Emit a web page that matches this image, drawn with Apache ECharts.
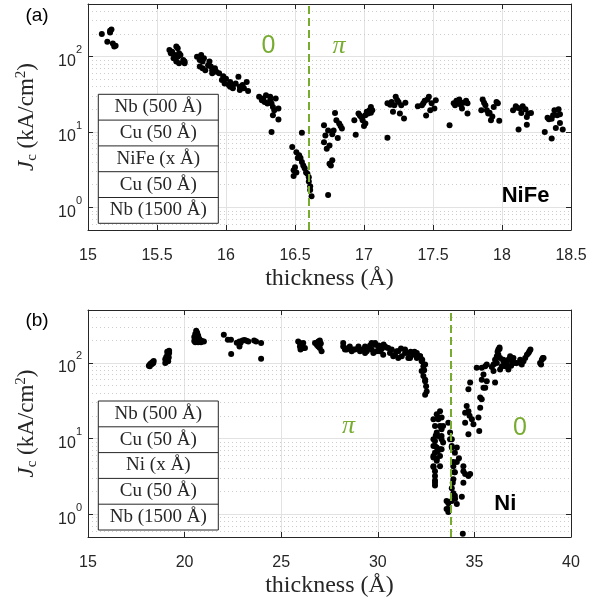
<!DOCTYPE html>
<html>
<head>
<meta charset="utf-8">
<script src="https://cdn.jsdelivr.net/npm/echarts@6/dist/echarts.min.js"></script>
<style>
  html, body { margin: 0; padding: 0; background: #fff; }
  #chart { width: 606px; height: 607px; }
</style>
</head>
<body>
<div id="chart"></div>
<script>
// ---- Measured critical current density vs. ferromagnet thickness ----
// (a) Nb/Cu/NiFe/Cu/Nb junctions  [thickness Å, Jc kA/cm²]
const NIFE_POINTS = [
  [15.10,200],[15.16,220],[15.17,230],[15.16,210],[15.14,158],[15.18,150],[15.19,136],[15.20,140],
  [15.59,123],[15.60,111],[15.61,116],[15.64,136],[15.65,129],[15.63,105],[15.62,95],[15.65,100],
  [15.66,111],[15.67,105],[15.69,90],[15.70,82],[15.64,86],[15.66,82],[15.70,86],
  [15.79,100],[15.81,90],[15.82,105],[15.83,86],[15.84,95],[15.81,74],[15.83,70],[15.85,66],
  [15.87,77],[15.88,86],[15.89,74],[15.90,66],[15.92,70],[15.90,60],[15.93,63],
  [15.95,60],[15.98,55],[15.97,49],[16.00,51],[15.99,44],[16.03,46],[16.05,42],[16.07,44],
  [16.09,54],[16.10,40],[16.12,42],[16.15,46],[16.16,35],[16.05,38],[16.03,40],[16.02,42],
  [16.13,38],[16.10,36],
  [16.24,29.3],[16.26,26.4],[16.27,27.9],[16.29,30.8],[16.28,25.1],[16.30,23.9],[16.32,26.4],
  [16.33,23.9],[16.34,21.5],[16.36,27.9],[16.35,19.4],[16.38,20.5],[16.34,16.7],[16.38,14.6],
  [16.33,10.0],[16.32,29.3],
  [16.48,6.3],[16.51,5.4],[16.53,4.9],[16.52,4.5],[16.55,4.0],[16.50,3.4],[16.49,3.1],[16.49,2.6],
  [16.51,2.9],[16.57,3.3],[16.59,2.8],[16.60,2.5],[16.61,1.9],[16.61,1.7],[16.62,1.4],[16.55,9.8],
  [16.58,2.9],[16.54,4.5],[16.56,3.6],[16.60,2.2],
  [16.71,12.3],[16.74,10.5],[16.71,7.3],[16.75,6.6],[16.73,6.0],[16.78,10.5],[16.79,17.9],
  [16.80,14.3],[16.82,13.0],[16.84,11.1],[16.81,8.3],[16.77,4.2],[16.75,3.8],[16.76,3.6],
  [16.74,1.46],[16.72,9.0],[16.77,9.3],[16.83,12.0],
  [16.93,14.3],[16.94,9.2],[16.96,17.6],[16.98,15.8],[16.99,14.3],[17.01,13.0],[17.02,18.5],
  [17.04,19.5],[17.05,21.5],[17.06,19.5],[17.03,17.6],[17.01,16.7],[16.97,16.5],[17.00,12.0],
  [17.05,18.0],
  [17.17,8.4],[17.17,24],[17.20,25],[17.23,29.3],[17.25,25],[17.27,22.7],[17.30,24.4],[17.21,18.5],
  [17.26,17.6],[17.29,15.1],[17.22,22.7],[17.24,26.5],[17.19,23],
  [17.39,22],[17.42,22.7],[17.44,25.9],[17.47,29.3],[17.46,27],[17.49,24],[17.52,26.4],[17.51,20.5],
  [17.45,16.6],[17.48,19.5],[17.43,24],
  [17.62,12.3],[17.65,24],[17.67,25.9],[17.69,27],[17.72,24.4],[17.74,25.9],[17.75,24],[17.71,20.5],
  [17.75,17.6],[17.66,22.7],[17.70,23],[17.68,24.5],
  [17.86,27],[17.88,22.7],[17.85,19.5],[17.89,19.5],[17.90,17.6],[17.94,21.5],[17.96,25],[17.97,24],
  [17.92,14.3],[17.98,14.1],[17.91,18],[17.87,24.5],[17.93,16],
  [18.08,19.5],[18.10,22],[18.13,20.5],[18.15,22],[18.17,20],[18.14,17.9],[18.19,17.6],[18.21,17.9],
  [18.18,15.8],[18.18,12.5],[18.12,10.8],[18.11,21],
  [18.31,10],[18.33,15.5],[18.34,14.8],[18.36,8.2],[18.37,16.7],[18.38,19.5],[18.41,20],[18.40,16.7],
  [18.42,17.2],[18.42,13.2],[18.39,11.3],[18.44,10.8],[18.36,15]
];

// (b) Nb/Cu/Ni/Cu/Nb junctions  [thickness Å, Jc kA/cm²]
const NI_POINTS = [
  [18.15,92],[18.2,95],[18.25,98],[18.3,100],[18.35,103],[18.4,106],[18.2,90],[18.3,96],[18.38,100],
  [19.0,100],[19.05,108],[19.1,115],[19.15,125],[19.2,135],[19.2,145],[19.1,140],[19.05,120],
  [19.15,105],[19.0,112],[19.12,130],[19.18,118],
  [20.6,265],[20.65,250],[20.55,240],[20.7,230],[20.5,220],[20.6,215],[20.75,210],[20.5,195],
  [20.65,200],[20.8,200],[20.9,195],[21.0,192],[20.55,188],[20.7,188],[20.85,188],[20.6,205],[20.7,195],
  [22.03,236],[22.24,202],[22.4,202],[22.41,131],[22.84,192],[22.84,165],[23.0,198],[23.2,196],
  [23.3,192],[23.6,198],[23.7,192],[23.96,183],[23.96,113],[22.7,185],[22.9,185],[23.1,200],
  [25.88,192],[25.97,165],[26.14,183],[26.23,157],[26.05,170],[25.97,183],[26.14,157],[26.83,183],
  [27.0,198],[26.92,165],[27.09,142],[26.75,183],[26.92,192],[27.0,157],[26.85,172],[27.05,180],[26.0,150],
  [28.21,183],[28.3,150],[28.47,157],[28.65,142],[28.82,150],[29.0,165],[29.08,142],[29.34,135],
  [29.5,157],[29.68,150],[29.86,183],[29.94,142],[30.05,170],[30.2,153],[30.28,128],[30.45,160],
  [30.63,135],[30.8,122],[30.98,142],[31.06,116],[31.41,135],[31.58,116],[31.7,140],
  [28.21,165],[28.39,150],[28.55,165],[28.73,150],[28.99,157],[29.2,150],[29.34,165],[29.43,142],
  [29.68,183],[29.86,174],[29.77,135],[30.03,165],[30.11,142],[30.37,165],[30.54,157],[30.72,150],
  [30.89,128],[31.06,142],[31.24,122],[31.41,150],[31.58,135],[31.67,116],[31.84,128],[32.02,116],
  [32.19,122],[31.9,140],[31.2,155],[30.3,175],[29.6,170],
  [32.02,135],[32.19,122],[32.27,105],[32.36,90],[32.27,78],[32.36,67],[32.45,57],[32.5,49],
  [32.53,42],[32.45,38],[32.45,95],[32.4,80],[32.45,60],[32.3,110],
  [33.22,23],[33.13,19],[33.22,14.6],[33.05,12],[33.13,10.8],[32.96,9.3],[32.88,8.0],[33.05,7.6],
  [32.96,6.5],[32.88,5.6],[33.05,5.1],[32.88,4.3],[32.96,3.7],[32.96,3.2],[32.96,2.6],[32.96,2.4],
  [33.3,13.3],[33.3,9.8],[33.22,5.9],[33.22,4.3],[33.3,7.2],[32.88,18],[32.96,14.6],[33.05,21],
  [33.13,18],[32.88,9.8],[32.96,8],[32.88,5.9],[33.05,5.4],[32.88,4.2],[32.96,2.8],[33.3,19],
  [33.3,10.8],[33.38,14.6],[33.22,7.2],[33.38,8.9],[33.1,6.8],[33.0,11],
  [33.65,16.2],[33.74,12],[33.74,9.8],[33.83,8],[34.09,7.6],[33.99,6.5],[34.09,4.9],[33.91,4.3],
  [33.99,3.6],[33.91,2.9],[33.83,2.2],[33.91,1.9],[33.99,1.75],[33.83,1.5],[33.65,1.4],[33.65,1.17],
  [33.65,1.07],[34.4,0.55],[34.43,4.3],[34.52,3.4],[34.43,2.6],[34.69,3.2],[34.35,1.7],[34.09,1.36],
  [33.83,9.8],[33.83,7.6],[33.91,4.9],[33.96,3.6],[33.88,2.6],[34.0,1.6],[33.56,1.5],[33.56,1.17],
  [34.43,3.7],[34.78,3.4],[34.2,5.5],
  [34.69,45],[34.78,55],[34.6,27],[34.52,22],[34.69,23],[34.75,20],[34.87,18],[34.52,16.2],
  [34.69,11.4],[34.95,15.5],[35.38,60],[35.38,33],[35.3,25.6],[35.21,19],[35.25,12.6],[35.12,86],
  [35.38,86],[35.47,70],[35.56,47],[35.64,57],[35.3,35],[35.47,47],[35.64,95],[35.99,78],[36.07,55],
  [36.3,153],[36.24,128],[36.33,116],[36.07,110],[36.16,100],[36.42,90],[36.5,105],[36.33,82],
  [35.99,95],[36.76,110],[36.85,122],[36.94,105],[36.76,82],[37.02,116],[37.1,100],[37.45,95],
  [37.54,105],[37.63,116],[37.72,128],[37.85,142],[37.9,150],[38.4,100],[38.49,110],[38.54,116],
  [38.45,95],[36.24,150],[36.16,122],[36.67,95],[36.6,90],[37.2,100],[37.37,110],[37.8,135],
  [38.58,116],[35.9,88],[35.56,90],[36.5,110],[36.2,140],[36.3,160],[36.9,92]
];

// 0-π transition thicknesses (dashed markers)
const NIFE_TRANSITION = 16.6;
const NI_TRANSITION = 33.8;

// axis ranges and tick steps
const NIFE_X_RANGE = [15, 18.5, 0.5];
const NI_X_RANGE = [15, 40, 5];
const JC_RANGE = [0.5, 500];
// minor log grid lines
const JC_MINOR = [0.6, 0.7, 0.8, 0.9, 2, 3, 4, 5, 6, 7, 8, 9, 20, 30, 40, 50, 60, 70, 80, 90, 200, 300, 400];

// junction layer stacks (inset)
const NIFE_STACK = ['Nb (500 Å)', 'Cu (50 Å)', 'NiFe (x Å)', 'Cu (50 Å)', 'Nb (1500 Å)'];
const NI_STACK = ['Nb (500 Å)', 'Cu (50 Å)', 'Ni (x Å)', 'Cu (50 Å)', 'Nb (1500 Å)'];

const AXIS_COLOR = '#262626';
const GRID_COLOR = '#e2e2e2';
const MINOR_COLOR = '#cdcdcd';
const GREEN = '#77ac30';
const SANS = '"Liberation Sans", Arial, sans-serif';
const SERIF = '"Liberation Serif", "Times New Roman", serif';

const grids = [
  { left: 88, top: 4, width: 483, height: 226 },
  { left: 88, top: 310, width: 483, height: 227 }
];

function xAxisPair(gi, range) {
  const [min, max, interval] = range;
  return [
    {
      type: 'value', gridIndex: gi, min, max, interval, position: 'bottom',
      name: 'thickness (Å)', nameLocation: 'middle', nameGap: 37,
      nameTextStyle: { fontFamily: SERIF, fontSize: 24, color: AXIS_COLOR },
      axisLine: { show: true, onZero: false, lineStyle: { color: AXIS_COLOR, width: 1 } },
      axisTick: { show: true, inside: true, length: 5, lineStyle: { color: AXIS_COLOR } },
      axisLabel: { fontFamily: SANS, fontSize: 16, color: AXIS_COLOR, margin: 18 },
      splitLine: { show: true, lineStyle: { color: GRID_COLOR, width: 1 } }
    },
    {
      type: 'value', gridIndex: gi, min, max, interval, position: 'top',
      axisLine: { show: true, onZero: false, lineStyle: { color: AXIS_COLOR, width: 1 } },
      axisTick: { show: true, inside: true, length: 5, lineStyle: { color: AXIS_COLOR } },
      axisLabel: { show: false }, splitLine: { show: false }
    }
  ];
}

function powerLabel(v) {
  const e = Math.log10(v);
  if (Math.abs(e - Math.round(e)) < 1e-6) return '{b|10}{sup|' + Math.round(e) + '}';
  return '';
}

function yAxisPair(gi) {
  return [
    {
      type: 'log', logBase: 10, gridIndex: gi, min: JC_RANGE[0], max: JC_RANGE[1], splitNumber: 3,
      position: 'left',
      name: '{i|J}{sub|c}{n| (kA/cm}{sup|2}{n|)}', nameLocation: 'middle', nameGap: 46, nameRotate: 90,
      nameTextStyle: {
        rich: {
          i: { fontFamily: SERIF, fontStyle: 'italic', fontSize: 23, color: AXIS_COLOR, lineHeight: 30, verticalAlign: 'middle' },
          n: { fontFamily: SERIF, fontSize: 23, color: AXIS_COLOR, lineHeight: 30, verticalAlign: 'middle' },
          sub: { fontFamily: SERIF, fontSize: 15, color: AXIS_COLOR, lineHeight: 30, verticalAlign: 'bottom', padding: [0, 0, 2, 0] },
          sup: { fontFamily: SERIF, fontSize: 15, color: AXIS_COLOR, lineHeight: 30, verticalAlign: 'top', padding: [2, 0, 0, 0] }
        }
      },
      axisLine: { show: true, onZero: false, lineStyle: { color: AXIS_COLOR, width: 1 } },
      axisTick: { show: true, inside: true, length: 5, lineStyle: { color: AXIS_COLOR } },
      axisLabel: {
        margin: 6, formatter: powerLabel, showMinLabel: false, showMaxLabel: false,
        rich: {
          b: { fontFamily: SANS, fontSize: 16, color: AXIS_COLOR, lineHeight: 26, verticalAlign: 'bottom' },
          sup: { fontFamily: SANS, fontSize: 11, color: AXIS_COLOR, lineHeight: 26, verticalAlign: 'top', padding: [1, 0, 0, 0] }
        }
      },
      splitLine: { show: true, lineStyle: { color: GRID_COLOR, width: 1 } }
    },
    {
      type: 'log', logBase: 10, gridIndex: gi, min: JC_RANGE[0], max: JC_RANGE[1], splitNumber: 3,
      position: 'right',
      axisLine: { show: true, onZero: false, lineStyle: { color: AXIS_COLOR, width: 1 } },
      axisTick: { show: true, inside: true, length: 5, lineStyle: { color: AXIS_COLOR } },
      axisLabel: { show: false }, splitLine: { show: false }
    }
  ];
}

// dotted minor grid, kept beneath the data points
function minorGridSeries(xi, yi) {
  return {
    type: 'scatter', xAxisIndex: xi, yAxisIndex: yi, data: [], z: 0, silent: true,
    markLine: {
      z: 0, silent: true, symbol: 'none', label: { show: false }, animation: false,
      lineStyle: { color: MINOR_COLOR, type: [1, 3], width: 1 },
      data: JC_MINOR.map(v => ({ yAxis: v }))
    }
  };
}

// dashed 0-π boundary, drawn over the data points
function transitionSeries(xi, yi, x) {
  return {
    type: 'scatter', xAxisIndex: xi, yAxisIndex: yi, data: [], z: 6, silent: true,
    markLine: {
      z: 6, silent: true, symbol: 'none', label: { show: false }, animation: false,
      lineStyle: { color: GREEN, type: [8, 4], width: 2 },
      data: [{ xAxis: x }]
    }
  };
}

function dataSeries(xi, yi, pts) {
  return {
    type: 'scatter', xAxisIndex: xi, yAxisIndex: yi, data: pts, z: 3,
    symbol: 'circle', symbolSize: 6,
    itemStyle: { color: '#000', opacity: 1, borderWidth: 0 },
    emphasis: { disabled: true }, animation: false
  };
}

function stackTable(left, top, rows) {
  const w = 120, rowH = 25.8;
  const children = [{
    type: 'rect', z: 100, shape: { x: 0, y: 0, width: w, height: rowH * rows.length },
    style: { fill: '#fff', stroke: AXIS_COLOR, lineWidth: 1 }
  }];
  rows.forEach((t, i) => {
    if (i > 0) {
      children.push({ type: 'line', z: 101, shape: { x1: 0, y1: rowH * i, x2: w, y2: rowH * i },
        style: { stroke: AXIS_COLOR, lineWidth: 1 } });
    }
    children.push({ type: 'text', z: 102, style: {
      text: t, x: w / 2, y: rowH * (i + 0.5), align: 'center', verticalAlign: 'middle',
      textAlign: 'center', textVerticalAlign: 'middle',
      font: '19px ' + SERIF, fill: AXIS_COLOR } });
  });
  return { type: 'group', x: left, y: top, z: 100, children };
}

function label(text, x, y, font, color, align) {
  return { type: 'text', z: 100, style: {
    text, x, y, align: align || 'center', verticalAlign: 'middle',
    textAlign: align || 'center', textVerticalAlign: 'middle', font, fill: color } };
}

const chart = echarts.init(document.getElementById('chart'), null, { renderer: 'canvas' });
chart.setOption({
  animation: false,
  backgroundColor: '#fff',
  grid: grids,
  xAxis: [...xAxisPair(0, NIFE_X_RANGE), ...xAxisPair(1, NI_X_RANGE)],
  yAxis: [...yAxisPair(0), ...yAxisPair(1)],
  series: [
    minorGridSeries(0, 0),
    dataSeries(0, 0, NIFE_POINTS),
    transitionSeries(0, 0, NIFE_TRANSITION),
    minorGridSeries(2, 2),
    dataSeries(2, 2, NI_POINTS),
    transitionSeries(2, 2, NI_TRANSITION)
  ],
  graphic: [
    label('(a)', 37, 16, '19px ' + SANS, '#000'),
    label('(b)', 37, 321, '19px ' + SANS, '#000'),
    stackTable(98.3, 94.3, NIFE_STACK),
    stackTable(98.3, 401, NI_STACK),
    label('0', 268.5, 46, '25px ' + SANS, GREEN),
    label('π', 339, 46, 'italic 26px ' + SERIF, GREEN),
    label('π', 348.5, 426, 'italic 26px ' + SERIF, GREEN),
    label('0', 520, 428, '25px ' + SANS, GREEN),
    label('NiFe', 501.7, 196, 'bold 22px ' + SANS, '#000', 'left'),
    label('Ni', 494.3, 504, 'bold 22px ' + SANS, '#000', 'left')
  ]
});
</script>
</body>
</html>
